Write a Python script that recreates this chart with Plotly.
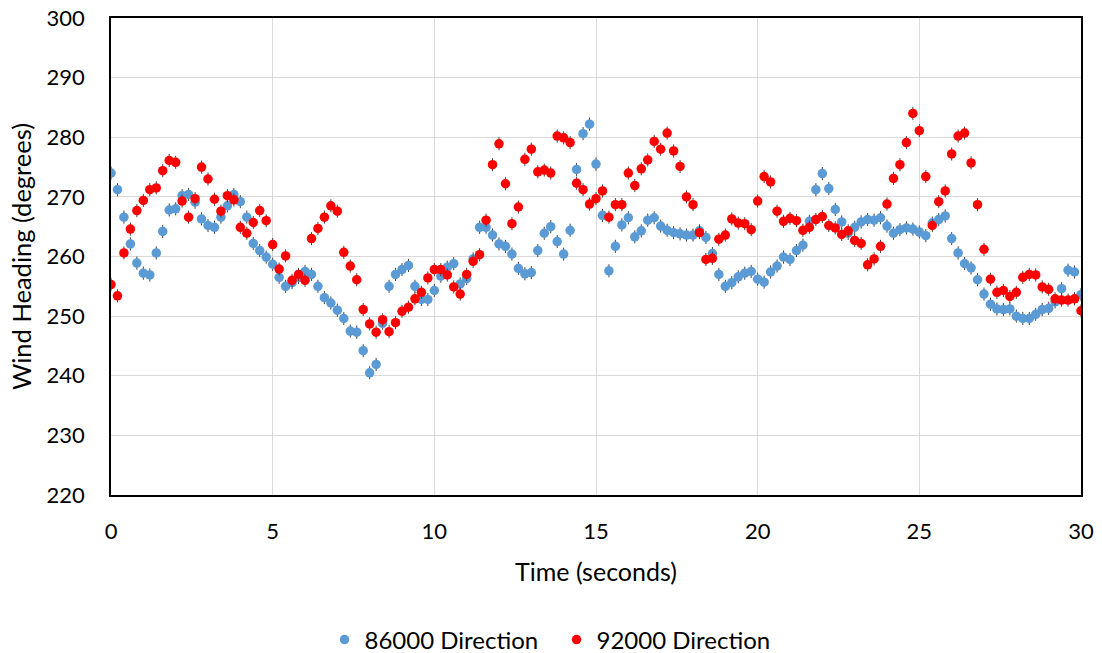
import plotly.graph_objects as go

# sampling interval 0.2 s, 0 .. 30 s
time_s = [round(0.2 * k, 1) for k in range(151)]

dir_86000 = [
    274.0, 271.2, 266.6, 262.1, 258.9, 257.2, 256.9, 260.6, 264.2, 267.8,
    268.0, 270.2, 270.4, 269.1, 266.3, 265.2, 264.9, 266.6, 268.5, 270.4,
    269.2, 266.6, 262.2, 261.0, 259.9, 258.7, 256.5, 255.0, 255.6, 256.5,
    257.5, 257.0, 255.0, 253.1, 252.2, 251.0, 249.6, 247.5, 247.3, 244.2,
    240.5, 241.9, 248.8, 255.0, 257.0, 257.8, 258.5, 255.0, 252.8, 252.8,
    254.3, 256.7, 258.2, 258.8, 255.4, 256.3, 259.6, 264.9, 264.9, 263.6,
    262.1, 261.7, 260.4, 258.0, 257.1, 257.3, 261.0, 263.9, 265.0, 262.5,
    260.4, 264.4, 274.6, 280.6, 282.2, 275.5, 266.9, 257.6, 261.7, 265.3,
    266.5, 263.3, 264.3, 266.1, 266.5, 265.1, 264.4, 264.0, 263.8, 263.6,
    263.6, 264.3, 263.2, 260.5, 257.0, 255.0, 255.6, 256.6, 257.2, 257.5,
    256.2, 255.7, 257.4, 258.4, 259.9, 259.5, 261.0, 261.9, 265.9, 271.2,
    273.9, 271.4, 267.9, 265.8, 263.9, 264.9, 265.8, 266.2, 266.1, 266.5,
    265.1, 263.9, 264.5, 264.8, 264.6, 264.1, 263.5, 265.6, 266.2, 266.8,
    263.0, 260.6, 258.8, 258.1, 256.1, 253.7, 252.0, 251.2, 251.1, 251.2,
    250.0, 249.6, 249.6, 250.3, 251.1, 251.3, 252.4, 254.6, 257.7, 257.4,
    253.6,
]

dir_92000 = [
    255.3, 253.4, 260.6, 264.6, 267.7, 269.4, 271.2, 271.5, 274.4, 276.1,
    275.8, 269.3, 266.6, 269.7, 275.0, 273.0, 269.6, 267.6, 270.2, 269.5,
    264.9, 263.9, 265.7, 267.7, 266.0, 262.0, 257.9, 260.1, 256.0, 257.0,
    256.0, 263.0, 264.7, 266.6, 268.5, 267.6, 260.7, 258.4, 256.1, 251.1,
    248.7, 247.3, 249.4, 247.4, 248.9, 250.8, 251.5, 252.9, 254.0, 256.4,
    257.8, 257.8, 256.9, 254.9, 253.7, 257.0, 259.2, 260.3, 266.1, 275.4,
    278.9, 272.2, 265.5, 268.3, 276.3, 278.0, 274.2, 274.5, 274.0, 280.2,
    279.9, 279.1, 272.3, 271.2, 268.8, 269.7, 271.0, 266.6, 268.7, 268.7,
    274.0, 271.9, 274.7, 276.2, 279.3, 278.0, 280.7, 277.7, 275.1, 270.0,
    268.7, 264.0, 259.5, 259.7, 262.9, 263.6, 266.3, 265.6, 265.5, 264.5,
    269.3, 273.4, 272.5, 267.6, 265.9, 266.4, 266.0, 264.4, 264.9, 266.2,
    266.7, 265.2, 264.8, 263.7, 264.3, 262.7, 262.2, 258.6, 259.6, 261.7,
    268.8, 273.1, 275.4, 279.1, 284.0, 281.1, 273.4, 265.2, 269.2, 271.0,
    277.2, 280.2, 280.7, 275.7, 268.7, 261.2, 256.2, 254.0, 254.3, 253.3,
    254.0, 256.5, 257.0, 256.9, 254.9, 254.5, 252.9, 252.7, 252.7, 252.9,
    250.9,
]

err = 1.1
x_ticks = [0, 5, 10, 15, 20, 25, 30]
y_ticks = [220, 230, 240, 250, 260, 270, 280, 290, 300]

FONT = "Lato"
fig = go.Figure()
fig.add_trace(go.Scatter(
    x=time_s, y=dir_86000, mode="markers", name="86000 Direction",
    marker=dict(color="#5B9BD5", size=9.5, line=dict(width=0)),
    error_y=dict(type="constant", value=err, color="#404040", thickness=1, width=0),
))
fig.add_trace(go.Scatter(
    x=time_s, y=dir_92000, mode="markers", name="92000 Direction",
    marker=dict(color="#FF0000", size=9.5, line=dict(width=0)),
    error_y=dict(type="constant", value=err, color="#404040", thickness=1, width=0),
))

fig.update_layout(
    width=1102, height=653,
    margin=dict(l=111, r=21, t=18, b=158, autoexpand=False),
    paper_bgcolor="white", plot_bgcolor="white",
    font=dict(family=FONT, size=22, color="#000000"),
    showlegend=True,
    legend=dict(orientation="h", xref="container", yref="container",
                x=0.505, xanchor="center", y=0.02, yanchor="middle",
                font=dict(size=24), itemsizing="trace", entrywidth=187),
)
fig.update_xaxes(
    range=[0, 30], tickvals=x_ticks, showgrid=True, gridcolor="#D9D9D9", gridwidth=1,
    showline=True, linecolor="black", linewidth=1.5, mirror=True,
    ticks="", ticklabelstandoff=16, zeroline=False, automargin=False,
    title=dict(text="Time (seconds)", standoff=20, font=dict(size=25)),
)
fig.update_yaxes(
    range=[220, 300], tickvals=y_ticks, showgrid=True, gridcolor="#D9D9D9", gridwidth=1,
    showline=True, linecolor="black", linewidth=1.5, mirror=True,
    ticks="", ticklabelstandoff=20, zeroline=False, automargin=False,
    title=dict(text="Wind Heading (degrees)", standoff=8, font=dict(size=25.5)),
)

fig.write_html("out.html")
